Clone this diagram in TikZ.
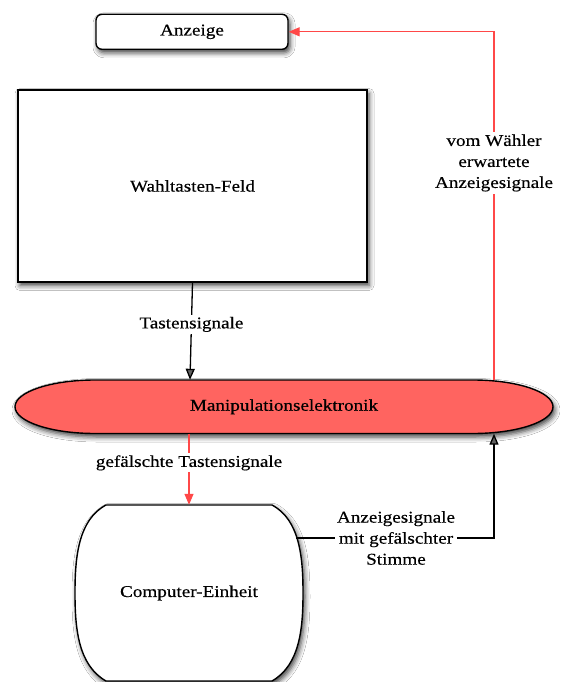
\documentclass[tikz,border=0pt]{standalone}
\usepackage{fontspec}
\setmainfont{Liberation Serif}[FakeStretch=1.16,FakeBold=0.35]
\usetikzlibrary{arrows.meta,shadows.blur,calc}
\definecolor{lred}{RGB}{255,72,72}
\definecolor{fred}{RGB}{255,100,96}
\tikzset{
  shad/.style={blur shadow={shadow xshift=2pt,shadow yshift=-3.5pt,shadow blur radius=5pt,shadow opacity=75}},
  txt/.style={font=\fontsize{16.5}{21}\selectfont, align=center},
  box/.style={txt, draw=black, line width=1.4pt, fill=white, inner sep=0pt},
  lbl/.style={txt, fill=white, inner sep=2pt},
  conn/.style={line width=1.3pt, -{Triangle[length=11pt,width=9pt]}},
  rconn/.style={conn, draw=lred, line width=1.3pt, -{Triangle[length=11pt,width=9pt,fill=lred]}},
}
\begin{document}
\begin{tikzpicture}[x=1pt,y=-1pt]
\useasboundingbox[fill=white] (0,0) rectangle (561,682);

% Anzeige
\node[box, shad, rounded corners=6pt, minimum width=192pt, minimum height=35pt] (anz) at (192,31.8) {Anzeige};

% Wahltasten-Feld
\node[box, shad, minimum width=349pt, minimum height=192pt] (wf) at (192.5,186) {Wahltasten-Feld};

% Manipulationselektronik shape
\path[draw=black, line width=1.4pt, fill=fred, shad]
  (95,380) -- (473,380) arc[start angle=90, end angle=-90, x radius=80pt, y radius=26.75pt]
  -- (95,433.5) arc[start angle=270, end angle=90, x radius=80pt, y radius=26.75pt] -- cycle;
\node[txt, minimum width=538pt, minimum height=53.5pt, inner sep=0pt] (manip) at (284,406.75) {Manipulationselektronik};

% Computer-Einheit shape
\path[draw=black, line width=1.4pt, fill=white, shad]
  (106,505) -- (272,505) .. controls (300,520) and (303,558) .. (303,593)
  .. controls (303,628) and (300,665) .. (272,681) -- (106,681)
  .. controls (78,665) and (75,628) .. (75,593)
  .. controls (75,558) and (78,520) .. (106,505) -- cycle;
\node[txt, minimum width=228pt, minimum height=176pt, inner sep=0pt] (comp) at (189,593) {Computer-Einheit};

% helper coordinates
\coordinate (mtop) at ($(manip.north)+(-94,0)$);
\coordinate (mr) at ($(manip.south)+(210,0)$);
\coordinate (cout) at (296,538);

% connectors
\draw[conn] (wf.south) -- node[lbl, pos=0.43] {Tastensignale} (mtop);
\draw[rconn] (manip.south -| comp.north) -- node[lbl, pos=0.41] {gefälschte Tastensignale} (comp.north);
\draw[conn] (cout) -- node[lbl, pos=0.505] {Anzeigesignale\\mit gefälschter\\Stimme} (cout -| mr) -- (mr);
\draw[rconn] (manip.north -| mr) -- node[lbl, pos=0.623] {vom Wähler\\erwartete\\Anzeigesignale} (anz.east -| mr) -- (anz.east);
\end{tikzpicture}
\end{document}
